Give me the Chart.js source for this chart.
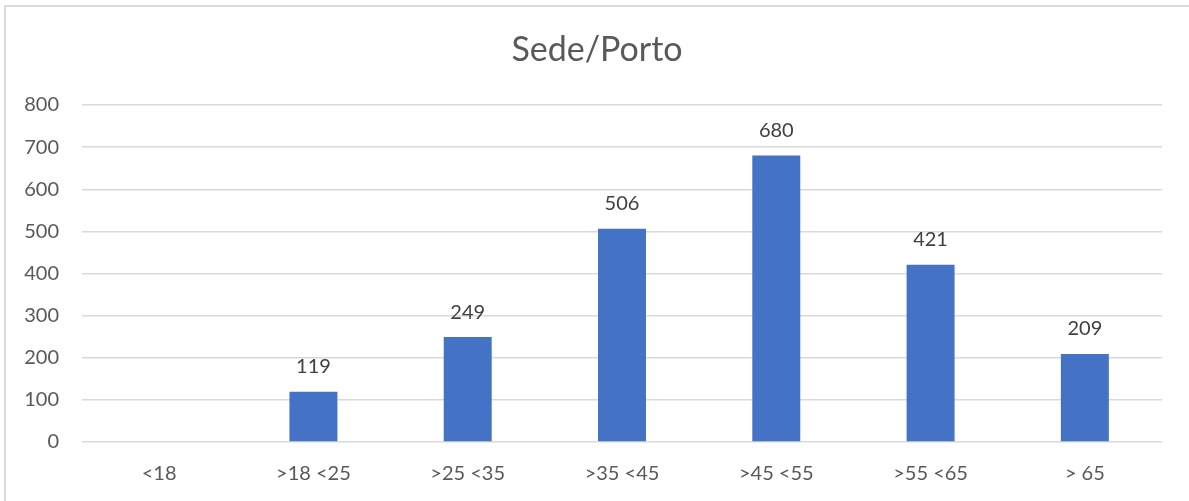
<!DOCTYPE html>
<html>
<head>
<meta charset="utf-8">
<script src="https://cdn.jsdelivr.net/npm/chart.js@4/dist/chart.umd.min.js"></script>
<style>
  html, body { margin: 0; padding: 0; background: #fff; overflow: hidden; }
  #wrap { position: relative; width: 1189px; height: 501px; }
  #frame { position: absolute; left: 4px; top: 5px; width: 1200px; height: 520px;
           border-left: 2px solid #dadada; border-top: 2px solid #dadada; pointer-events: none; }
  canvas { position: absolute; left: 0; top: 0; }
</style>
</head>
<body>
<div id="wrap">
  <canvas id="c" width="1189" height="501"></canvas>
  <div id="frame"></div>
</div>
<script>
const titleText = "Sede/Porto";
const categories = ["<18", ">18 <25", ">25 <35", ">35 <45", ">45 <55", ">55 <65", "> 65"];
const values = [null, 119, 249, 506, 680, 421, 209];
const yTicks = [0, 100, 200, 300, 400, 500, 600, 700, 800];

const FONT = "Lato, 'Open Sans', sans-serif";
const GREY = "#595959";

const valueLabels = {
  id: "valueLabels",
  afterDatasetsDraw(chart) {
    const ctx = chart.ctx;
    const meta = chart.getDatasetMeta(0);
    ctx.save();
    ctx.font = "20px " + FONT;
    ctx.fillStyle = "#404040";
    ctx.textAlign = "center";
    ctx.textBaseline = "middle";
    meta.data.forEach((bar, i) => {
      const v = values[i];
      if (v === null || v === undefined) return;
      ctx.fillText(String(v), bar.x, bar.y - 25);
    });
    ctx.restore();
  }
};

new Chart(document.getElementById("c"), {
  type: "bar",
  data: {
    labels: categories,
    datasets: [{
      data: values,
      backgroundColor: "#4472C4",
      borderWidth: 0,
      barPercentage: 0.311,
      categoryPercentage: 1.0
    }]
  },
  options: {
    responsive: false,
    animation: false,
    devicePixelRatio: 1,
    layout: { padding: { left: 5, right: 0, top: 10, bottom: 0 } },
    plugins: {
      legend: { display: false },
      tooltip: { enabled: false },
      title: {
        display: true,
        text: titleText,
        color: GREY,
        font: { family: FONT, size: 34, weight: "normal" },
        padding: { top: 20, bottom: 34.2 }
      }
    },
    scales: {
      x: {
        grid: { display: false, drawTicks: false },
        border: { display: false },
        ticks: { color: GREY, font: { family: FONT, size: 20 }, padding: 20, maxRotation: 0 },
        afterFit(s) { s.height = 501 - 442; }
      },
      y: {
        min: 0,
        max: 800,
        afterBuildTicks(s) { s.ticks = yTicks.map(v => ({ value: v })); },
        grid: { color: "#d9d9d9", lineWidth: 1.5, drawTicks: false },
        border: { display: false },
        ticks: { color: GREY, font: { family: FONT, size: 20 }, padding: 23 },
        afterFit(s) { s.width = 77; }
      },
      yRight: {
        type: "linear",
        position: "right",
        display: true,
        min: 0,
        max: 800,
        grid: { display: false, drawTicks: false },
        border: { display: false },
        ticks: { display: false },
        afterFit(s) { s.width = 27; }
      }
    }
  },
  plugins: [valueLabels]
});
</script>
</body>
</html>
